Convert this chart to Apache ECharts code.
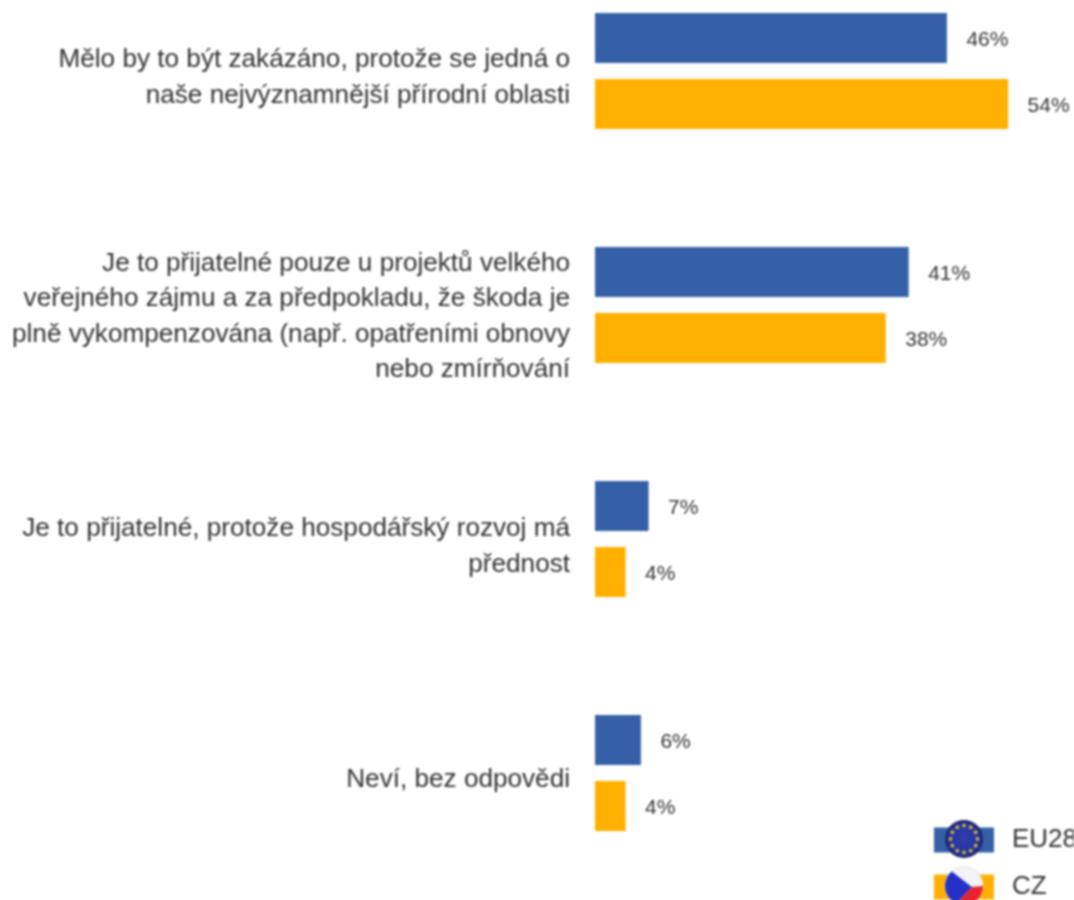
<!DOCTYPE html>
<html><head><meta charset="utf-8">
<style>html,body{margin:0;padding:0;background:#fff;overflow:hidden;height:900px}#c{position:absolute;left:0;top:-46px;width:1074px;height:966px;filter:blur(0.9px)}</style>
<script src="https://cdn.jsdelivr.net/npm/echarts@6/dist/echarts.min.js"></script>
</head><body><div id="c"></div>
<script>
const categories = [
  "Mělo by to být zakázáno, protože se jedná o\nnaše nejvýznamnější přírodní oblasti",
  "Je to přijatelné pouze u projektů velkého\nveřejného zájmu a za předpokladu, že škoda je\nplně vykompenzována (např. opatřeními obnovy\nnebo zmírňování",
  "Je to přijatelné, protože hospodářský rozvoj má\npřednost",
  "Neví, bez odpovědi"
];
const eu28 = [46, 41, 7, 6];
const cz = [54, 38, 4, 4];
const seriesNames = ["EU28", "CZ"];
const BLUE = "#3560A8", ORANGE = "#FFB000", TEXT = "#333333";

const chart = echarts.init(document.getElementById('c'));
const labelStyle = {show:true, position:'right', distance:19.5, offset:[0,2], formatter:'{c}%',
  fontFamily:'Liberation Sans', fontSize:21, color:TEXT};
const OY = 46; // page offset of the canvas
const euY = 839+OY, czY = 886+OY, cx = 964, R = 19;
const stars = [];
for (let i=0;i<12;i++){
  const a = i*Math.PI/6;
  stars.push({type:'circle', shape:{cx:cx+13.5*Math.cos(a), cy:euY+13.5*Math.sin(a), r:2},
    style:{fill:'#C9B24A'}, z:12, silent:true});
}
const arc = (from,to,start) => {
  const pts = start.slice();
  for (let d=from; d<=to; d+=5){
    const a = d*Math.PI/180;
    pts.push([cx+R*Math.cos(a), czY-R*Math.sin(a)]);
  }
  return pts;
};
const czBlue = arc(130,245,[[cx+8,czY+1]]);
const czRed = arc(245,360,[[cx+8,czY+1]]);
const labelStyleRich = {fontFamily:'Liberation Sans', fontSize:26.15, lineHeight:35.5, color:TEXT, align:'right'};
const spacerKeys = ['a','b','c','a'];
chart.setOption({
  animation:false,
  backgroundColor:'#fff',
  grid:{left:595, top:0, width:459, height:936, containLabel:false},
  xAxis:{type:'value', min:0, max:60, show:false},
  yAxis:{type:'category', inverse:true, data:categories,
    axisLine:{show:false}, axisTick:{show:false}, splitLine:{show:false},
    axisLabel:{margin:25, align:'right', interval:0,
      formatter:(v,i)=>'{'+spacerKeys[i]+'| }\n'+v.split('\n').map(l=>'{t|'+l+'}').join('\n'),
      rich:{t:labelStyleRich, a:{fontSize:1,lineHeight:14}, b:{fontSize:1,lineHeight:24}, c:{fontSize:1,lineHeight:16}}}},
  legend:{orient:'vertical', left:934, top:827+OY, itemWidth:60, itemHeight:25, itemGap:21, itemStyle:{borderWidth:0},
    icon:'rect', textStyle:{fontFamily:'Liberation Sans', fontSize:26, color:TEXT, padding:[0,0,0,13]}, padding:0, data:seriesNames},
  series:[
    {name:seriesNames[0], type:'bar', data:eu28, barWidth:50, barGap:'32%', itemStyle:{color:BLUE}, label:labelStyle},
    {name:seriesNames[1], type:'bar', data:cz, barWidth:50, barGap:'32%', itemStyle:{color:ORANGE}, label:labelStyle}
  ],
  graphic:{elements:[
    {type:'circle', shape:{cx:cx,cy:euY,r:R}, style:{
      fill:{type:'radial',x:0.5,y:0.5,r:0.5,colorStops:[{offset:0,color:'#3040B0'},{offset:0.8,color:'#22309A'},{offset:1,color:'#1A2060'}]}}, z:10, silent:true},
    ...stars,
    {type:'circle', shape:{cx:cx,cy:czY,r:R}, style:{fill:'#F4F4F6', stroke:'#E0E0E0', lineWidth:1}, z:10, silent:true},
    {type:'polygon', shape:{points:czRed}, style:{fill:'#E8222E'}, z:11, silent:true},
    {type:'polygon', shape:{points:czBlue}, style:{fill:'#2430C8'}, z:12, silent:true}
  ]}
});
</script></body></html>
